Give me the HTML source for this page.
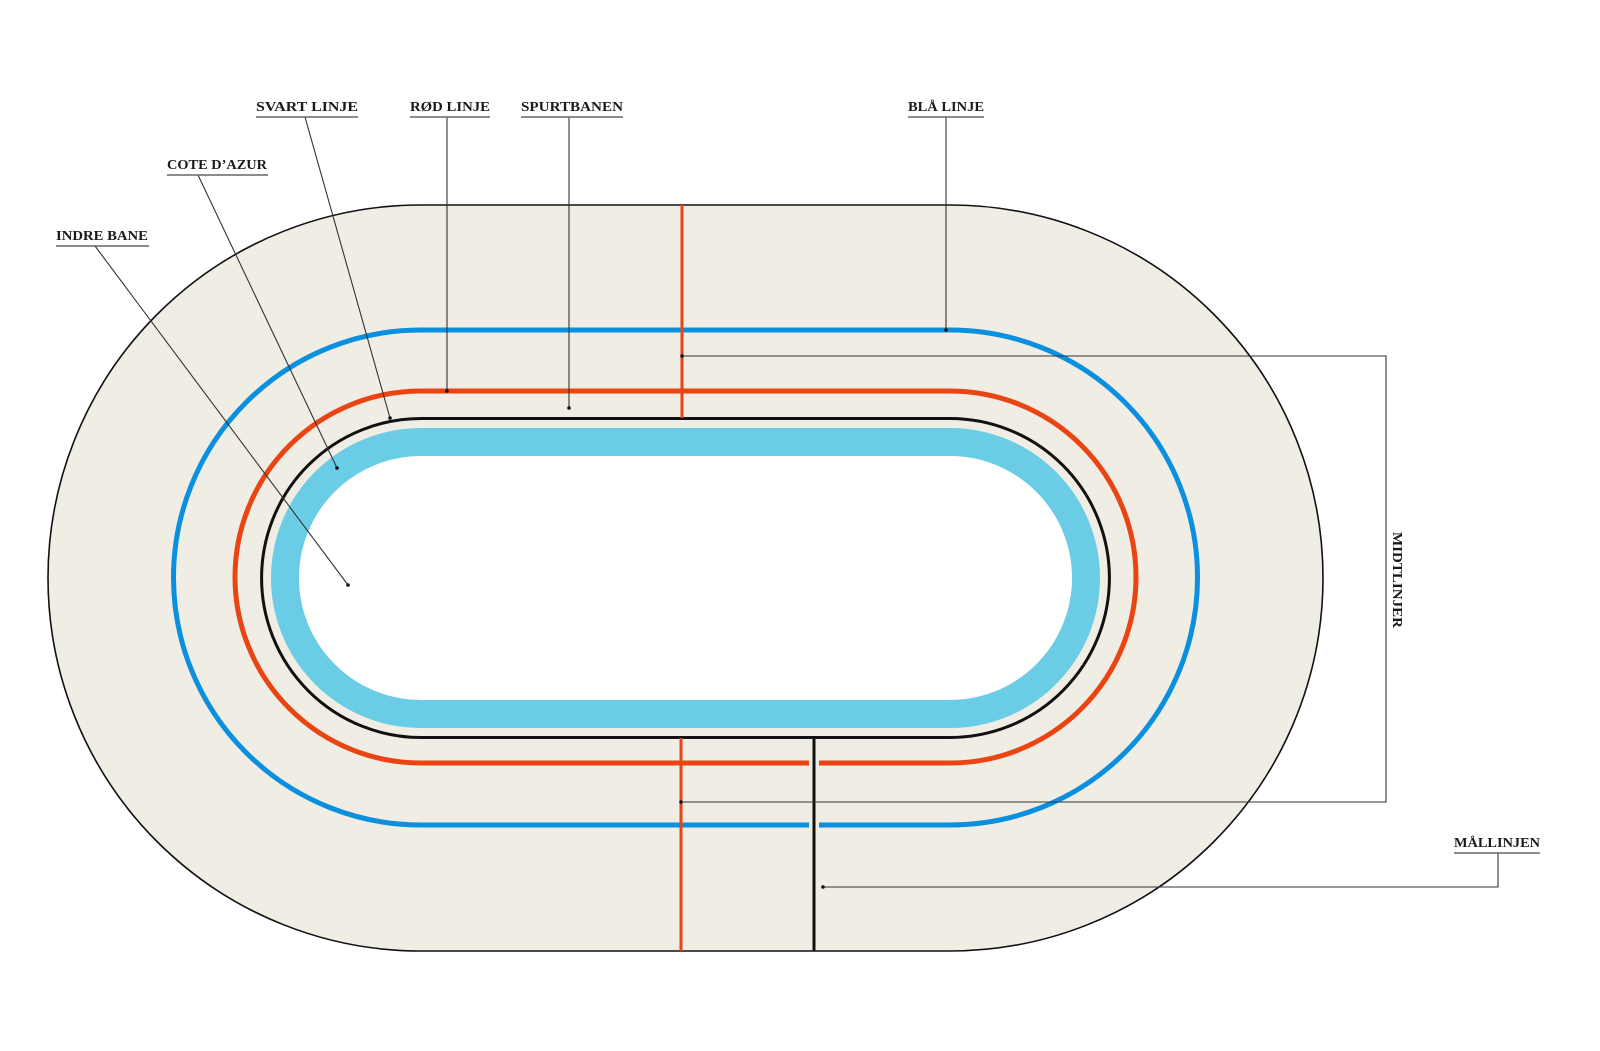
<!DOCTYPE html>
<html><head><meta charset="utf-8"><style>
html,body{margin:0;padding:0;background:#fff;}
svg{display:block;}
text{font-family:"Liberation Serif",serif;font-weight:bold;font-size:13.5px;fill:#1a1a1a;}
</style></head><body>
<svg width="1600" height="1051" viewBox="0 0 1600 1051" xmlns="http://www.w3.org/2000/svg">
<path d="M421,205 H950 A373,373 0 0 1 950,951 H421 A373,373 0 0 1 421,205 Z" fill="#f0ede4" stroke="#111" stroke-width="1.6"/>
<path d="M421,442 H950 A136,136 0 0 1 950,714 H421 A136,136 0 0 1 421,442 Z" fill="#fff" stroke="#6acde5" stroke-width="28"/>
<path d="M421,418.5 H950 A159.5,159.5 0 0 1 950,737.5 H421 A159.5,159.5 0 0 1 421,418.5 Z" fill="none" stroke="#111" stroke-width="3"/>
<path d="M421,391 H950 A186,186 0 0 1 950,763 H421 A186,186 0 0 1 421,391 Z" fill="none" stroke="#ea4413" stroke-width="5"/>
<path d="M421,330 H950 A247.5,247.5 0 0 1 950,825 H421 A247.5,247.5 0 0 1 421,330 Z" fill="none" stroke="#0b8fdf" stroke-width="5"/>
<rect x="809" y="758" width="10" height="10" fill="#f0ede4"/>
<rect x="809" y="820" width="10" height="10" fill="#f0ede4"/>
<line x1="682" y1="205" x2="682" y2="418" stroke="#ea4413" stroke-width="3"/>
<line x1="681" y1="738" x2="681" y2="951" stroke="#ea4413" stroke-width="3"/>
<line x1="814" y1="737" x2="814" y2="951" stroke="#111" stroke-width="3"/>
<g stroke="#333" stroke-width="1.1" fill="none">
<polyline points="682,356 1386,356 1386,802 681,802"/>
<polyline points="1498,853 1498,887 823,887"/>
<line x1="305" y1="117" x2="390" y2="418"/>
<line x1="447" y1="117" x2="447" y2="391"/>
<line x1="569" y1="117" x2="569" y2="408"/>
<line x1="946" y1="117" x2="946" y2="330"/>
<line x1="198" y1="175" x2="337" y2="468"/>
<line x1="95" y1="246" x2="348" y2="585"/>
</g>
<g fill="#111">
<circle cx="682" cy="356" r="1.8"/><circle cx="681" cy="802" r="1.8"/><circle cx="823" cy="887" r="1.8"/>
<circle cx="390" cy="418" r="1.8"/><circle cx="447" cy="391" r="1.8"/><circle cx="569" cy="408" r="1.8"/>
<circle cx="946" cy="330" r="1.8"/><circle cx="337" cy="468" r="1.8"/><circle cx="348" cy="585" r="1.8"/>
</g>
<g stroke="#666" stroke-width="1.5">
<line x1="256" y1="117" x2="358" y2="117"/>
<line x1="410" y1="117" x2="490" y2="117"/>
<line x1="521" y1="117" x2="623" y2="117"/>
<line x1="908" y1="117" x2="984" y2="117"/>
<line x1="167" y1="175" x2="268" y2="175"/>
<line x1="56" y1="246" x2="149" y2="246"/>
<line x1="1454" y1="853" x2="1540" y2="853"/>
</g>
<text x="256" y="111" textLength="102" lengthAdjust="spacingAndGlyphs">SVART LINJE</text>
<text x="410" y="111" textLength="80" lengthAdjust="spacingAndGlyphs">RØD LINJE</text>
<text x="521" y="111" textLength="102" lengthAdjust="spacingAndGlyphs">SPURTBANEN</text>
<text x="908" y="111" textLength="76" lengthAdjust="spacingAndGlyphs">BLÅ LINJE</text>
<text x="167" y="169" textLength="100" lengthAdjust="spacingAndGlyphs">COTE D’AZUR</text>
<text x="56" y="240" textLength="92" lengthAdjust="spacingAndGlyphs">INDRE BANE</text>
<text x="1454" y="847" textLength="86" lengthAdjust="spacingAndGlyphs">MÅLLINJEN</text>
<text transform="translate(1393,532) rotate(90)" textLength="96" lengthAdjust="spacingAndGlyphs">MIDTLINJER</text>
</svg>
</body></html>
